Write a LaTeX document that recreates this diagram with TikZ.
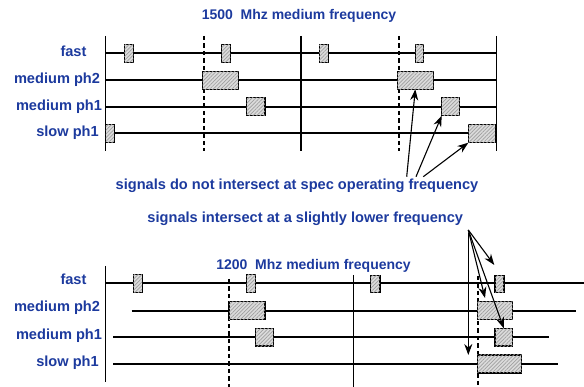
\documentclass[tikz,border=0pt]{standalone}
\usepackage{fontspec}
\setmainfont{Liberation Sans}
\usetikzlibrary{arrows.meta,patterns.meta,calc}
\definecolor{lblue}{RGB}{28,58,158}
\begin{document}
\begin{tikzpicture}[x=1pt,y=-1pt,
  lbl/.style={text=lblue,font=\fontsize{14.6}{16}\selectfont\bfseries,inner sep=0pt,text height=10pt,text depth=3pt},
  ttl/.style={lbl,font=\fontsize{14}{16}\selectfont\bfseries},
  sig/.style={line width=1.7pt},
  grid/.style={line width=1.2pt},
  dsh/.style={line width=2pt,dash pattern=on 4.5pt off 3pt},
  sbox/.style={draw,line width=1.1pt,inner sep=0pt,outer sep=0pt,fill=gray!28,
     postaction={pattern={Lines[angle=45,distance=2.6pt,line width=0.7pt]},pattern color=gray!75}},
  arr/.style={line width=1.1pt,-{Stealth[length=11pt,width=8pt]}}]
\useasboundingbox (0,0) rectangle (584,387);
% ---------------- top diagram ----------------
\node[ttl] (t) at (299,16.5) {1500\ \ Mhz medium frequency};
\node[lbl] (lf1) at (73.5,53.3) {fast};
\node[lbl] (lm21) at (57,80) {medium ph2};
\node[lbl] (lm11) at (59,107) {medium ph1};
\node[lbl] (ls1) at (67.5,133.3) {slow ph1};
% verticals
\coordinate (va1) at (105.7,36); \coordinate (va2) at (105.7,151);
\coordinate (vb1) at (301,36);   \coordinate (vb2) at (301,151);
\coordinate (vc1) at (496.7,36); \coordinate (vc2) at (496.7,151);
\coordinate (da1) at (203.7,36); \coordinate (da2) at (203.7,151);
\coordinate (db1) at (399,36);   \coordinate (db2) at (399,151);
% signal lines
\foreach \y/\n in {53.3/f,80/m2,107/m1,133.3/s}{
  \coordinate (\n L) at (105.7,\y); \coordinate (\n R) at (496.7,\y);
  \draw[sig] (\n L) -- (\n R);}
\draw[grid] (va1) -- (va2);
\draw[grid] (vb1) -- (vb2);
\draw[grid] (vc1) -- (vc2);
\draw[dsh] (da1) -- (da2);
\draw[dsh] (db1) -- (db2);
% boxes
\node[sbox,minimum width=9pt,minimum height=18pt] (fa) at (128.8,53.3) {};
\node[sbox,minimum width=8.6pt,minimum height=18pt] (fb) at (226,53.3) {};
\node[sbox,minimum width=9pt,minimum height=18pt] (fc) at (323.6,53.3) {};
\node[sbox,minimum width=8pt,minimum height=18pt] (fd) at (419.7,53.3) {};
\node[sbox,minimum width=35.6pt,minimum height=18pt] (m2a) at (220.5,80.3) {};
\node[sbox,minimum width=36pt,minimum height=18pt] (m2b) at (415.3,80.3) {};
\node[sbox,minimum width=18.3pt,minimum height=18pt] (m1a) at (255.8,106.7) {};
\node[sbox,minimum width=18pt,minimum height=18pt] (m1b) at (450.7,106.7) {};
\node[sbox,minimum width=8.3pt,minimum height=18pt] (sa) at (109.9,133.7) {};
\node[sbox,minimum width=26.7pt,minimum height=18pt] (sb) at (481.7,133.7) {};
% caption and arrows
\node[lbl] (c1) at (297,185.8) {signals do not intersect at spec operating frequency};
\coordinate (o1) at (406.7,176.7);
\coordinate (o2) at (416,176.7);
\coordinate (o3) at (423.3,176.7);
\draw[arr] (o1) -- (m2b.south);
\draw[arr] (o2) -- (m1b.south west);
\draw[arr] (o3) -- (sb.south west);
% ---------------- bottom diagram ----------------
\node[lbl] (c2) at (305.3,219) {signals intersect at a slightly lower frequency};
\node[ttl] (t2) at (313.5,265.8) {1200\ \ Mhz medium frequency};
\node[lbl] (lf2) at (73.5,280.7) {fast};
\node[lbl] (lm22) at (57,308) {medium ph2};
\node[lbl] (lm12) at (59,335.7) {medium ph1};
\node[lbl] (ls2) at (67.5,362.7) {slow ph1};
\coordinate (wa1) at (105.7,266); \coordinate (wa2) at (105.7,381.7);
\coordinate (wb1) at (353.3,275); \coordinate (wb2) at (353.3,387);
\coordinate (ea1) at (228.7,279); \coordinate (ea2) at (228.7,387);
\coordinate (eb1) at (478.3,276); \coordinate (eb2) at (478.3,387);
\coordinate (gfL) at (105.7,283.3); \coordinate (gfR) at (584,283.3);
\coordinate (g2L) at (131.7,310.7); \coordinate (g2R) at (575.7,310.7);
\coordinate (g1L) at (113.3,337.3); \coordinate (g1R) at (549,337.3);
\coordinate (gsL) at (113.3,364);   \coordinate (gsR) at (557.7,364);
\draw[sig] (gfL) -- (gfR);
\draw[sig] (g2L) -- (g2R);
\draw[sig] (g1L) -- (g1R);
\draw[sig] (gsL) -- (gsR);
\draw[grid] (wa1) -- (wa2);
\draw[grid] (wb1) -- (wb2);
\draw[dsh] (ea1) -- (ea2);
\draw[dsh] (eb1) -- (eb2);
\node[sbox,minimum width=8.7pt,minimum height=17.7pt] (ga) at (137.7,283.8) {};
\node[sbox,minimum width=9pt,minimum height=17.7pt] (gb) at (251.2,283.8) {};
\node[sbox,minimum width=9.3pt,minimum height=17.3pt] (gc) at (375.3,284.3) {};
\node[sbox,minimum width=9pt,minimum height=17.3pt] (gd) at (499.5,284.3) {};
\node[sbox,minimum width=36pt,minimum height=18.3pt] (h2a) at (247,310.8) {};
\node[sbox,minimum width=35.4pt,minimum height=17.6pt] (h2b) at (495,310.5) {};
\node[sbox,minimum width=17.6pt,minimum height=17.7pt] (h1a) at (264.5,337.2) {};
\node[sbox,minimum width=17.7pt,minimum height=17.7pt] (h1b) at (503.8,337.2) {};
\node[sbox,minimum width=44.4pt,minimum height=18pt] (hs) at (499.5,364) {};
\coordinate (p0) at (468.3,230);
\coordinate (p1) at (494.3,265);
\coordinate (p2) at (485,298);
\coordinate (p4top) at (468.3,233);
\coordinate (p4) at (468.3,355);
\draw[arr] (p0) -- (p1);
\draw[arr] (p0) -- (p2);
\draw[arr] (p0) -- (h1b.north);
\draw[arr] (p4top) -- (p4);
\end{tikzpicture}
\end{document}
